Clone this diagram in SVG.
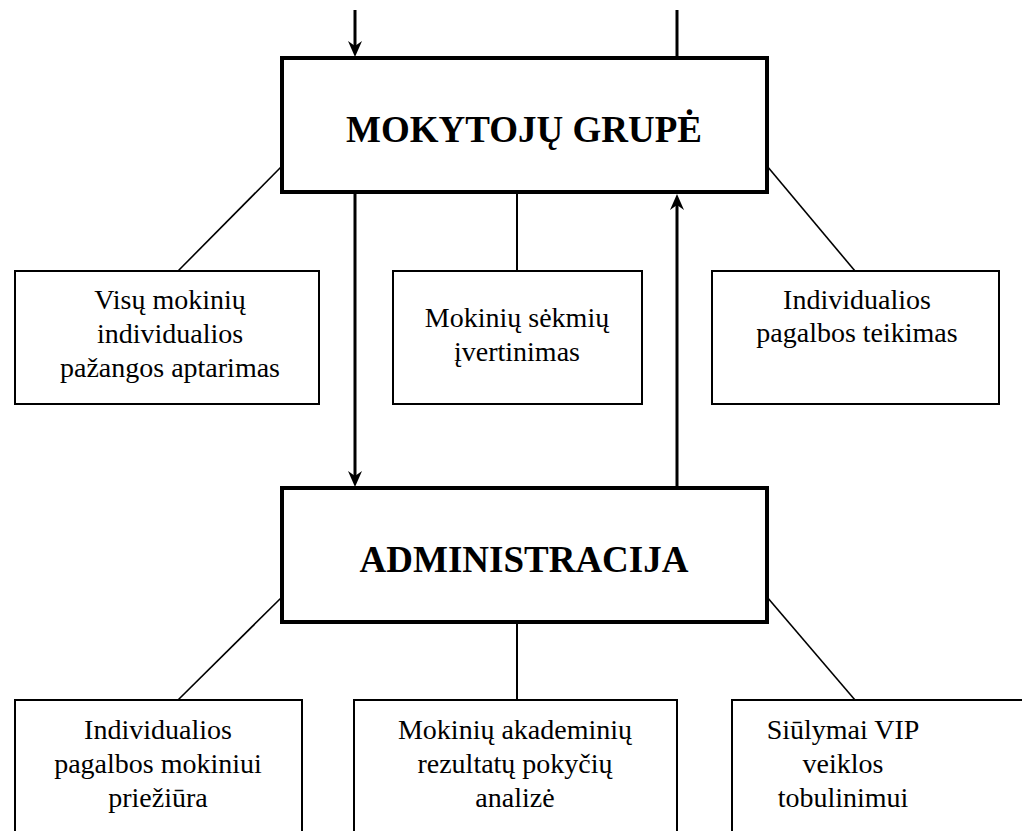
<svg xmlns="http://www.w3.org/2000/svg" width="1022" height="831" viewBox="0 0 1022 831">
<style>
.main{fill:#fff;stroke:#000;stroke-width:4}
.box{fill:#fff;stroke:#000;stroke-width:2}
.title{font-weight:bold;font-size:37px;text-anchor:middle;fill:#000}
.lbl{font-size:28px;text-anchor:middle;fill:#000}
.arr{stroke:#000;stroke-width:3;fill:none}
.thin{stroke:#000;stroke-width:1.6;fill:none}
.mid{stroke:#000;stroke-width:2;fill:none}
</style>
<defs>
<marker id="ah" markerUnits="userSpaceOnUse" viewBox="-17 -8 18 16" markerWidth="18" markerHeight="16" refX="-9" refY="0" orient="auto">
<path d="M0,0 L-16,-7 L-11,0 L-16,7 Z" fill="#000"/>
</marker>
</defs>
<rect width="1022" height="831" fill="#fff"/>
<g id="connectors">
<line class="arr" x1="355" y1="10" x2="355" y2="48" marker-end="url(#ah)"/>
<line class="arr" x1="677" y1="10" x2="677" y2="58"/>
<line class="arr" x1="355" y1="192" x2="355" y2="478" marker-end="url(#ah)"/>
<line class="arr" x1="677" y1="487" x2="677" y2="203" marker-end="url(#ah)"/>
<line class="mid" x1="517" y1="192" x2="517" y2="271"/>
<line class="mid" x1="517" y1="622" x2="517" y2="700"/>
<line class="thin" x1="282" y1="166" x2="178" y2="271"/>
<line class="thin" x1="767" y1="166" x2="855" y2="271"/>
<line class="thin" x1="282" y1="597" x2="178" y2="700"/>
<line class="thin" x1="767" y1="597" x2="855" y2="700"/>
</g>
<g font-family="'Liberation Serif', 'DejaVu Serif', serif">
<g id="mokytoju-grupe">
<rect class="main" x="282" y="58" width="485" height="134"/>
<text class="title" x="524" y="142">MOKYTOJŲ GRUPĖ</text>
</g>
<g id="administracija">
<rect class="main" x="282" y="488" width="485" height="134"/>
<text class="title" x="524" y="572">ADMINISTRACIJA</text>
</g>
<g id="visu-mokiniu">
<rect class="box" x="15" y="271" width="304" height="133"/>
<text class="lbl" x="170" y="309">Visų mokinių</text>
<text class="lbl" x="170" y="343">individualios</text>
<text class="lbl" x="170" y="377">pažangos aptarimas</text>
</g>
<g id="mokiniu-sekmiu">
<rect class="box" x="393" y="271" width="249" height="133"/>
<text class="lbl" x="517" y="327">Mokinių sėkmių</text>
<text class="lbl" x="517" y="361">įvertinimas</text>
</g>
<g id="individualios-pagalbos-teikimas">
<rect class="box" x="712" y="271" width="287" height="133"/>
<text class="lbl" x="857" y="309">Individualios</text>
<text class="lbl" x="857" y="342">pagalbos teikimas</text>
</g>
<g id="individualios-pagalbos-prieziura">
<rect class="box" x="15" y="700" width="287" height="150"/>
<text class="lbl" x="158" y="739">Individualios</text>
<text class="lbl" x="158" y="773">pagalbos mokiniui</text>
<text class="lbl" x="158" y="807">priežiūra</text>
</g>
<g id="akademiniu-rezultatu">
<rect class="box" x="354" y="700" width="323" height="150"/>
<text class="lbl" x="515" y="739">Mokinių akademinių</text>
<text class="lbl" x="515" y="773">rezultatų pokyčių</text>
<text class="lbl" x="515" y="807">analizė</text>
</g>
<g id="siulymai-vip">
<rect class="box" x="732" y="700" width="300" height="150"/>
<text class="lbl" x="843" y="739">Siūlymai VIP</text>
<text class="lbl" x="843" y="773">veiklos</text>
<text class="lbl" x="843" y="807">tobulinimui</text>
</g>
</g>
</svg>
